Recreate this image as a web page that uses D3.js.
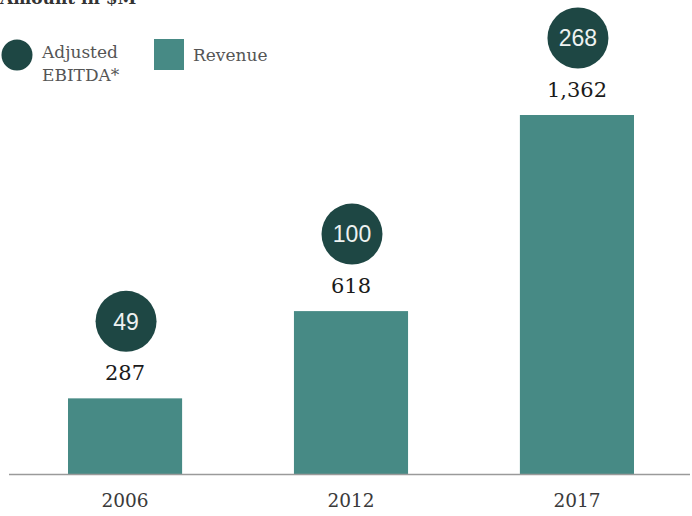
<!DOCTYPE html>
<html><head><meta charset="utf-8">
<script src="https://cdn.jsdelivr.net/npm/d3@7"></script>
<style>
html,body{margin:0;padding:0;background:#fff;}
svg{display:block;}
</style></head>
<body>
<svg id="chart" width="692" height="516"></svg>
<script>
const years = ["2006", "2012", "2017"];
const revenue = [287, 618, 1362];
const ebitda = [49, 100, 268];
const revenueLabels = ["287", "618", "1,362"];
const legendItems = ["Adjusted", "EBITDA*", "Revenue"];
const title = "Amount in $M";

const barColor = "#478a85";
const circleColor = "#1e4744";
const serif = "'DejaVu Serif', Georgia, serif";
const sans = "'Liberation Sans', Arial, sans-serif";

const svg = d3.select("#chart");

const x = d3.scaleBand().domain(years).range([68, 634]).paddingInner(0.495).paddingOuter(0);
const y = d3.scaleLinear().domain([0, 1362]).range([474, 115]);

// title (cut off at the top, as in the reference)
svg.append("text").attr("x", 0).attr("y", 4)
  .attr("font-family", serif).attr("font-weight", "bold").attr("font-size", 17)
  .attr("fill", "#333").text(title);

// legend
svg.append("circle").attr("cx", 17).attr("cy", 55).attr("r", 15.5).attr("fill", circleColor);
svg.append("text").attr("x", 42).attr("y", 58).attr("font-family", serif).attr("font-size", 17)
  .attr("fill", "#555").text(legendItems[0]);
svg.append("text").attr("x", 42).attr("y", 81).attr("font-family", serif).attr("font-size", 17)
  .attr("fill", "#555").text(legendItems[1]);
svg.append("rect").attr("x", 154).attr("y", 39).attr("width", 30).attr("height", 31).attr("fill", barColor);
svg.append("text").attr("x", 193).attr("y", 61).attr("font-family", serif).attr("font-size", 17)
  .attr("fill", "#555").text(legendItems[2]);

// bars
svg.selectAll("rect.bar").data(years).join("rect").attr("class", "bar")
  .attr("x", d => x(d)).attr("width", x.bandwidth())
  .attr("y", (d, i) => y(revenue[i])).attr("height", (d, i) => y(0) - y(revenue[i]))
  .attr("fill", barColor);

// revenue labels
svg.selectAll("text.val").data(years).join("text").attr("class", "val")
  .attr("x", d => x(d) + x.bandwidth() / 2)
  .attr("y", (d, i) => y(revenue[i]) - 18)
  .attr("text-anchor", "middle").attr("font-family", serif).attr("font-size", 21)
  .attr("fill", "#1a1a1a").text((d, i) => revenueLabels[i]);

// ebitda circles
const g = svg.selectAll("g.eb").data(years).join("g").attr("class", "eb")
  .attr("transform", (d, i) => `translate(${x(d) + x.bandwidth() / 2 + 1},${y(revenue[i]) - 77})`);
g.append("circle").attr("r", 30.5).attr("fill", circleColor);
g.append("text").attr("text-anchor", "middle").attr("dy", "0.36em")
  .attr("font-family", sans).attr("font-size", 23).attr("fill", "#eef2f1")
  .text((d, i) => ebitda[i]);

// baseline
svg.append("line").attr("x1", 9).attr("x2", 690).attr("y1", y(0) + 0.5).attr("y2", y(0) + 0.5)
  .attr("stroke", "#9a9a9a").attr("stroke-width", 1.5);

// x axis labels
const axis = svg.append("g").attr("transform", `translate(0,${y(0)})`)
  .call(d3.axisBottom(x).tickSize(0).tickPadding(20));
axis.select(".domain").remove();
axis.selectAll("text").attr("font-family", serif).attr("font-size", 18.5).attr("fill", "#3a3a3a");
</script>
</body></html>
